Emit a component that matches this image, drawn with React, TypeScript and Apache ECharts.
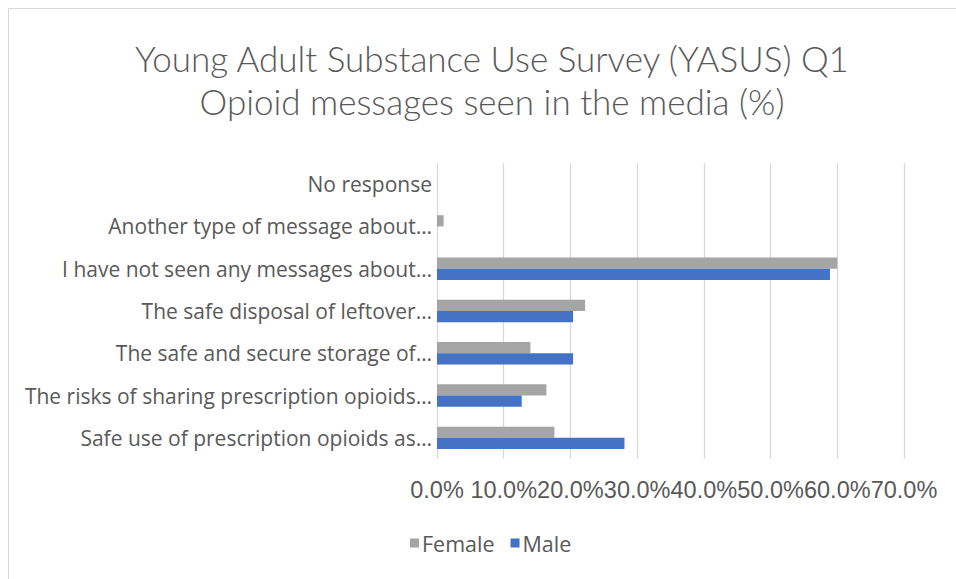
import React, { useEffect, useRef } from "react";
import * as echarts from "echarts";

const categories = [
  "Safe use of prescription opioids as…",
  "The risks of sharing prescription opioids…",
  "The safe and secure storage of…",
  "The safe disposal of leftover…",
  "I have not seen any messages about…",
  "Another type of message about…",
  "No response",
];
const femaleValues = [17.6, 16.4, 14.0, 22.2, 60.0, 1.0, 0];
const maleValues = [28.1, 12.7, 20.4, 20.4, 58.9, 0, 0];
const xTicks = [0, 10, 20, 30, 40, 50, 60, 70];
const titleLines = [
  "Young Adult Substance Use Survey (YASUS) Q1",
  "Opioid messages seen in the media (%)",
];

export default function App() {
  const ref = useRef<HTMLDivElement>(null);
  useEffect(() => {
    document.body.style.margin = "0";
    const chart = echarts.init(ref.current!, null, { renderer: "svg" });
    const textColor = "#595959";
    const font = "Open Sans, Lato, sans-serif";
    chart.setOption({
      animation: false,
      backgroundColor: "#ffffff",
      graphic: [
        {
          type: "rect",
          shape: { x: 8.5, y: 8.5, width: 970, height: 600 },
          style: { fill: "none", stroke: "#D9D9D9", lineWidth: 1 },
          silent: true,
        },
      ],
      title: {
        text: titleLines.join("\n"),
        left: 487,
        textAlign: "center",
        top: 31,
        textStyle: {
          color: textColor,
          fontSize: 35,
          fontWeight: 300,
          fontFamily: "Lato, sans-serif",
          lineHeight: 43,
        },
      },
      legend: {
        data: ["Female", "Male"],
        left: 405,
        top: 527,
        itemWidth: 9,
        itemHeight: 9,
        itemGap: 16,
        icon: "rect",
        textStyle: { color: textColor, fontSize: 21.5, fontFamily: font, padding: [0, 0, 0, -2] },
      },
      grid: { left: 437, right: 52, top: 163, bottom: 120, containLabel: false },
      xAxis: {
        type: "value",
        min: xTicks[0],
        max: xTicks[xTicks.length - 1],
        interval: 10,
        axisLine: { show: false },
        axisTick: { show: false },
        splitLine: { show: true, lineStyle: { color: "#D9D9D9", width: 1.3 } },
        axisLabel: {
          color: textColor,
          fontSize: 23.5,
          fontFamily: "Liberation Sans, Arial, sans-serif",
          margin: 19,
          showMinLabel: true,
          showMaxLabel: true,
          hideOverlap: false,
          formatter: (v: number) => v.toFixed(1) + "%",
        },
      },
      yAxis: {
        type: "category",
        data: categories,
        axisLine: { show: false },
        axisTick: { show: false },
        splitLine: { show: false },
        axisLabel: {
          color: textColor,
          fontSize: 21,
          fontFamily: font,
          margin: 5,
        },
      },
      series: [
        {
          name: "Female",
          type: "bar",
          data: femaleValues,
          itemStyle: { color: "#A5A5A5" },
          barGap: "0%",
          barCategoryGap: "47%",
          z: 2,
        },
        {
          name: "Male",
          type: "bar",
          data: maleValues,
          itemStyle: { color: "#4472C4" },
          barGap: "0%",
          barCategoryGap: "47%",
          z: 2,
        },
      ],
    });
    return () => chart.dispose();
  }, []);
  return (
    <div
      ref={ref}
      style={{ width: 956, height: 579, position: "absolute", left: 0, top: 0 }}
    />
  );
}
